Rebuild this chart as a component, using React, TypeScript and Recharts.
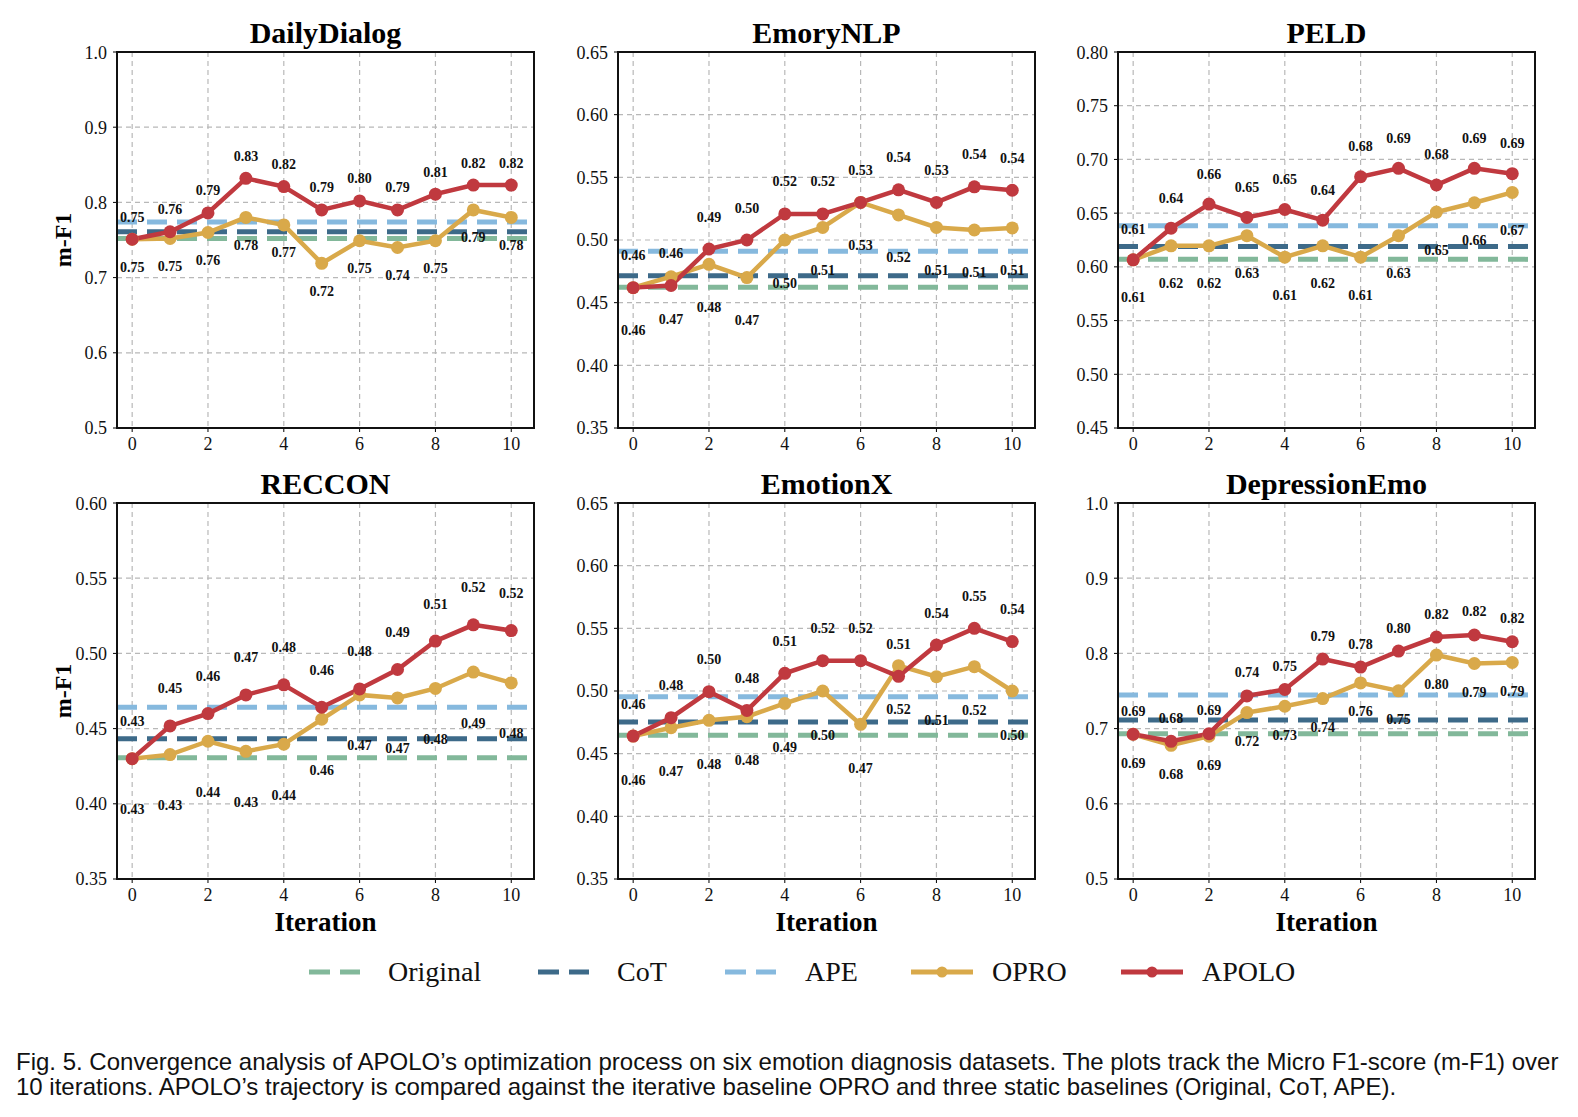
import React from "react";
import {
  CartesianGrid,
  LabelList,
  Line,
  LineChart,
  ReferenceLine,
  XAxis,
  YAxis,
} from "recharts";

const iterations = [0, 1, 2, 3, 4, 5, 6, 7, 8, 9, 10];
const xTicks = [0, 2, 4, 6, 8, 10];
const datasets = ["DailyDialog", "EmoryNLP", "PELD", "RECCON", "EmotionX", "DepressionEmo"];

const oproDailyDialog = [0.751, 0.752, 0.76, 0.78, 0.77, 0.719, 0.749, 0.74, 0.749, 0.79, 0.78];
const apoloDailyDialog = [0.751, 0.761, 0.786, 0.832, 0.821, 0.79, 0.802, 0.79, 0.811, 0.823, 0.823];
const oproEmoryNLP = [0.462, 0.4707, 0.4806, 0.47, 0.5, 0.51, 0.53, 0.52, 0.51, 0.508, 0.5096];
const apoloEmoryNLP = [0.462, 0.4637, 0.4928, 0.5, 0.5208, 0.5208, 0.53, 0.54, 0.53, 0.5424, 0.5397];
const oproPELD = [0.6065, 0.6196, 0.6196, 0.629, 0.609, 0.6196, 0.609, 0.629, 0.651, 0.6597, 0.6693];
const apoloPELD = [0.6065, 0.636, 0.6584, 0.646, 0.6534, 0.6435, 0.6839, 0.6917, 0.6762, 0.6917, 0.6867];
const oproRECCON = [0.43, 0.4327, 0.4416, 0.4349, 0.4396, 0.4562, 0.4724, 0.4704, 0.4767, 0.4876, 0.4804];
const apoloRECCON = [0.43, 0.4518, 0.46, 0.4724, 0.4791, 0.4642, 0.4764, 0.4893, 0.5082, 0.519, 0.5152];
const oproEmotionX = [0.464, 0.4707, 0.4766, 0.4795, 0.4901, 0.5, 0.4734, 0.5202, 0.5114, 0.5194, 0.5];
const apoloEmotionX = [0.464, 0.4787, 0.4995, 0.4845, 0.5141, 0.5242, 0.5242, 0.5117, 0.5367, 0.55, 0.5394];
const oproDepressionEmo = [0.6925, 0.6778, 0.6898, 0.7213, 0.7297, 0.7399, 0.7608, 0.7502, 0.7978, 0.7866, 0.788];
const apoloDepressionEmo = [0.6925, 0.6831, 0.6933, 0.7435, 0.752, 0.7925, 0.7818, 0.8031, 0.8217, 0.8245, 0.8155];

const oproSeries = [oproDailyDialog, oproEmoryNLP, oproPELD, oproRECCON, oproEmotionX, oproDepressionEmo];
const apoloSeries = [apoloDailyDialog, apoloEmoryNLP, apoloPELD, apoloRECCON, apoloEmotionX, apoloDepressionEmo];

const originalScores = [0.752, 0.4624, 0.607, 0.4307, 0.4646, 0.6933];
const cotScores = [0.761, 0.4715, 0.619, 0.4433, 0.4752, 0.7115];
const apeScores = [0.774, 0.491, 0.6382, 0.4642, 0.4955, 0.7448];

const yTicksDailyDialog = [0.5, 0.6, 0.7, 0.8, 0.9, 1.0];
const yTicksEmoryNLP = [0.35, 0.4, 0.45, 0.5, 0.55, 0.6, 0.65];
const yTicksPELD = [0.45, 0.5, 0.55, 0.6, 0.65, 0.7, 0.75, 0.8];
const yTicksRECCON = [0.35, 0.4, 0.45, 0.5, 0.55, 0.6];
const yTicksEmotionX = [0.35, 0.4, 0.45, 0.5, 0.55, 0.6, 0.65];
const yTicksDepressionEmo = [0.5, 0.6, 0.7, 0.8, 0.9, 1.0];
const yTicks = [yTicksDailyDialog, yTicksEmoryNLP, yTicksPELD, yTicksRECCON, yTicksEmotionX, yTicksDepressionEmo];
const yDecimals = [1, 2, 2, 2, 2, 1];

const legendLabels = ["Original", "CoT", "APE", "OPRO", "APOLO"];

const SERIF = '"Liberation Serif", "Times New Roman", serif';
const SANS = '"Liberation Sans", Arial, Helvetica, sans-serif';

const C_ORIG = "#82b89a";
const C_COT = "#3d6a89";
const C_APE = "#86b9de";
const C_OPRO = "#d9a94a";
const C_APOLO = "#c0393f";

// plot box geometry
const colLeft = [117, 618, 1118];
const rowTop = [52, 503];
const PW = 417;
const PH = 376;
const YW = 60;
const MT = 10;
const MR = 10;
const XH = 40;

// label offsets (px) above APOLO points / below OPRO points
const labelAbove = [22, 32, 30, 37, 32, 23];
const labelBelow = [28, 43, 38, 51, 44, 29];

const dataLabel = (offset: number) => (props: any) => {
  const { x, y, value } = props;
  if (x == null || y == null) return null;
  return (
    <text
      x={x}
      y={y + offset}
      textAnchor="middle"
      dominantBaseline="central"
      fontFamily={SERIF}
      fontWeight="bold"
      fontSize={14}
      fill="#111"
    >
      {Number(value).toFixed(2)}
    </text>
  );
};

function Panel({ idx }: { idx: number }) {
  const col = idx % 3;
  const row = Math.floor(idx / 3);
  const L = colLeft[col];
  const T = rowTop[row];
  const ticks = yTicks[idx];
  const chartData = iterations.map((it, i) => ({
    iter: it,
    opro: oproSeries[idx][i],
    apolo: apoloSeries[idx][i],
  }));
  const baselines = [
    { v: originalScores[idx], c: C_ORIG },
    { v: cotScores[idx], c: C_COT },
    { v: apeScores[idx], c: C_APE },
  ];

  return (
    <>
      <div
        style={{
          position: "absolute",
          left: L,
          width: PW,
          top: T - 34,
          textAlign: "center",
          fontFamily: SERIF,
          fontWeight: "bold",
          fontSize: 30,
          lineHeight: "30px",
          color: "#000",
        }}
      >
        {datasets[idx]}
      </div>
      <div style={{ position: "absolute", left: L - YW, top: T - MT }}>
        <LineChart
          width={YW + PW + MR}
          height={MT + PH + XH}
          data={chartData}
          margin={{ top: MT, right: MR, bottom: 0, left: 0 }}
        >
          <CartesianGrid stroke="#b8b8b8" strokeDasharray="5 4" strokeWidth={1.2} />
          <XAxis
            type="number"
            dataKey="iter"
            domain={[-0.4, 10.6]}
            ticks={xTicks}
            allowDataOverflow
            height={XH}
            axisLine={false}
            tickLine={{ stroke: "#000" }}
            tickSize={4}
            tickMargin={5}
            tick={{ fontFamily: SERIF, fontSize: 18, fill: "#111" }}
          />
          <YAxis
            type="number"
            domain={[ticks[0], ticks[ticks.length - 1]]}
            ticks={ticks}
            allowDataOverflow
            width={YW}
            axisLine={false}
            tickLine={{ stroke: "#000" }}
            tickSize={4}
            tickMargin={6}
            tickFormatter={(v: number) => v.toFixed(yDecimals[idx])}
            tick={{ fontFamily: SERIF, fontSize: 18, fill: "#111" }}
          />
          {baselines.map((b, i) => (
            <ReferenceLine
              key={i}
              y={b.v}
              stroke={b.c}
              strokeWidth={5}
              strokeDasharray="20 10"
            />
          ))}
          <Line
            dataKey="opro"
            stroke={C_OPRO}
            strokeWidth={4.5}
            dot={{ r: 6.5, fill: C_OPRO, stroke: C_OPRO, strokeWidth: 0 }}
            isAnimationActive={false}
          >
            <LabelList dataKey="opro" content={dataLabel(labelBelow[idx])} />
          </Line>
          <Line
            dataKey="apolo"
            stroke={C_APOLO}
            strokeWidth={4.5}
            dot={{ r: 6.5, fill: C_APOLO, stroke: C_APOLO, strokeWidth: 0 }}
            isAnimationActive={false}
          >
            <LabelList dataKey="apolo" content={dataLabel(-labelAbove[idx])} />
          </Line>
        </LineChart>
      </div>
      <div
        style={{
          position: "absolute",
          left: L - 1,
          top: T - 1,
          width: PW + 2,
          height: PH + 2,
          border: "2px solid #111",
          boxSizing: "border-box",
          pointerEvents: "none",
        }}
      />
      {col === 0 && (
        <div
          style={{
            position: "absolute",
            left: 63 - 60,
            top: T + PH / 2 - 15,
            width: 120,
            height: 30,
            lineHeight: "30px",
            textAlign: "center",
            transform: "rotate(-90deg)",
            fontFamily: SERIF,
            fontWeight: "bold",
            fontSize: 24,
            color: "#000",
          }}
        >
          m-F1
        </div>
      )}
      {row === 1 && (
        <div
          style={{
            position: "absolute",
            left: L,
            width: PW,
            top: 907,
            textAlign: "center",
            fontFamily: SERIF,
            fontWeight: "bold",
            fontSize: 27,
            lineHeight: "30px",
            color: "#000",
          }}
        >
          Iteration
        </div>
      )}
    </>
  );
}

const legendLineX = [309, 538, 725, 911, 1121];
const legendTextX = [388, 617, 805, 992, 1202];
const legendColors = [C_ORIG, C_COT, C_APE, C_OPRO, C_APOLO];

function Legend() {
  return (
    <>
      {legendLabels.map((name, i) => {
        const dashed = i < 3;
        const w = dashed ? 51 : 62;
        return (
          <React.Fragment key={name}>
            <svg
              style={{ position: "absolute", left: legendLineX[i], top: 962 }}
              width={w}
              height={20}
            >
              {dashed ? (
                <line x1={0} y1={10} x2={w} y2={10} stroke={legendColors[i]} strokeWidth={5} strokeDasharray="21 10" />
              ) : (
                <>
                  <line x1={0} y1={10} x2={w} y2={10} stroke={legendColors[i]} strokeWidth={5} />
                  <circle cx={w / 2} cy={10} r={5.5} fill={legendColors[i]} />
                </>
              )}
            </svg>
            <div
              style={{
                position: "absolute",
                left: legendTextX[i],
                top: 955,
                fontFamily: SERIF,
                fontSize: 28,
                lineHeight: "34px",
                color: "#111",
                whiteSpace: "nowrap",
              }}
            >
              {name}
            </div>
          </React.Fragment>
        );
      })}
    </>
  );
}

export default function App() {
  return (
    <div
      style={{
        position: "absolute",
        left: 0,
        top: 0,
        width: 1578,
        height: 1117,
        background: "#fff",
        overflow: "hidden",
      }}
    >
      {datasets.map((_, i) => (
        <Panel key={i} idx={i} />
      ))}
      <Legend />
      <div
        style={{
          position: "absolute",
          left: 16,
          top: 1049,
          width: 1570,
          fontFamily: SANS,
          fontSize: 24,
          lineHeight: "25px",
          color: "#111",
          whiteSpace: "nowrap",
        }}
      >
        Fig. 5. Convergence analysis of APOLO’s optimization process on six emotion diagnosis datasets. The plots track the Micro F1-score (m-F1) over
        <br />
        10 iterations. APOLO’s trajectory is compared against the iterative baseline OPRO and three static baselines (Original, CoT, APE).
      </div>
    </div>
  );
}
